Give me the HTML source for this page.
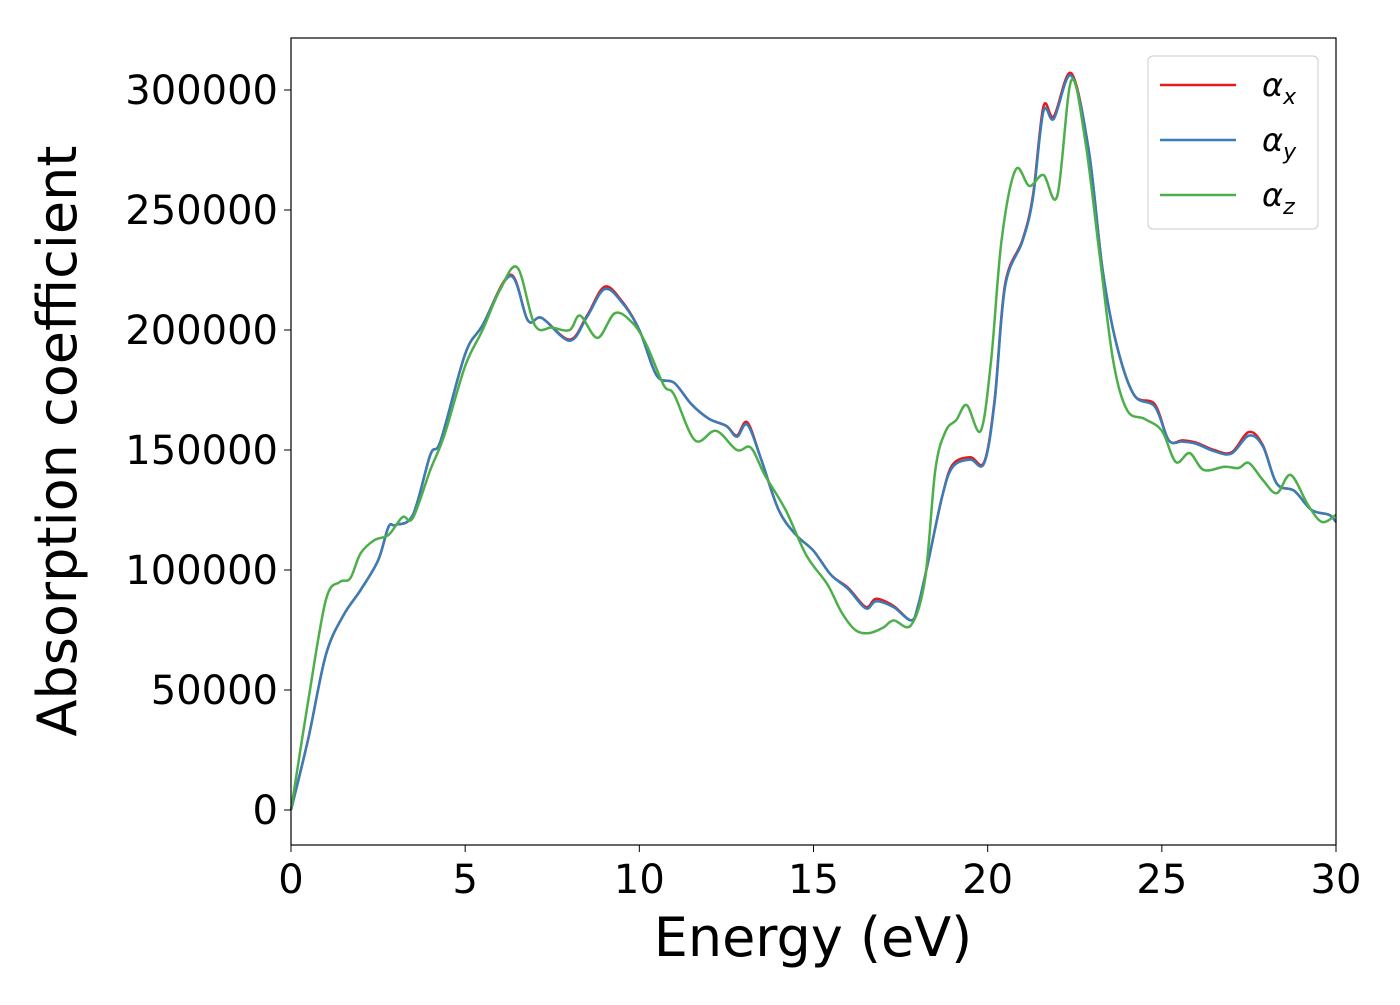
<!DOCTYPE html>
<html><head><meta charset="utf-8"><style>
body{margin:0;background:#fff;}
svg text{font-family:"DejaVu Sans","Liberation Sans",sans-serif;}
</style></head><body>
<svg id="chart" width="1400" height="1000" xmlns="http://www.w3.org/2000/svg">
<rect width="1400" height="1000" fill="#fff"/>
<g id="plot"></g>
<rect x="291" y="38" width="1045" height="807" fill="none" stroke="#000" stroke-width="1.2"/>
<g id="xticks"></g><g id="yticks"></g>
<text x="813" y="956" font-size="54" text-anchor="middle">Energy (eV)</text>
<text transform="translate(76,441) rotate(-90)" font-size="54" text-anchor="middle">Absorption coefficient</text>
<g>
<rect x="1148" y="56" width="170" height="173" rx="5" fill="#fff" stroke="#ccc"/>
<line x1="1160" y1="85" x2="1236" y2="85" stroke="#e41a1c" stroke-width="2.5"/>
<text x="1262" y="96" font-size="32" font-style="italic">α<tspan font-size="22" dy="8">x</tspan></text>
<line x1="1160" y1="140" x2="1236" y2="140" stroke="#377eb8" stroke-width="2.5"/>
<text x="1262" y="151" font-size="32" font-style="italic">α<tspan font-size="22" dy="8">y</tspan></text>
<line x1="1160" y1="195" x2="1236" y2="195" stroke="#4daf4a" stroke-width="2.5"/>
<text x="1262" y="206" font-size="32" font-style="italic">α<tspan font-size="22" dy="8">z</tspan></text>
</g>
</svg>
<script>
const xTicks=[0,5,10,15,20,25,30];
const yTicks=[0,50000,100000,150000,200000,250000,300000];
const energyX=[0,0.5,1,1.5,2,2.5,2.8,3,3.5,4,4.3,5,5.5,6.3,6.8,7.2,8,8.5,9,9.5,10,10.5,11,11.5,12,12.5,12.8,13.1,13.5,14,14.5,15,15.5,16,16.5,16.8,17.3,17.8,18,18.3,18.7,19,19.5,19.9,20.2,20.5,21,21.3,21.6,21.9,22.4,22.9,23.3,23.7,24.2,24.8,25.2,25.6,26,26.5,27,27.5,27.9,28.3,28.8,29.3,29.8,30];
const alphaX=[0,30000,64600,81000,91700,104000,118000,118750,123000,148000,154000,190000,202000,223000,204000,205000,196000,206000,218000,212000,200000,181000,178000,169000,163000,160000,156000,161500,146000,125000,114600,108000,98000,92500,84600,88000,85000,79000,85000,104000,131000,144000,147000,145000,171000,219000,237500,256000,293000,289000,307000,275000,225000,194000,173000,169000,154000,154000,153000,150000,149000,157500,152000,136000,133000,125000,123000,120000];
const alphaY=[0,30000,64600,81000,91700,104000,118000,118750,123000,148000,154000,190000,202000,222500,204000,205000,195500,205500,217000,211500,200000,181000,178000,169000,163000,160000,155500,160500,146000,125000,114600,108000,98000,92000,84000,87000,84500,79000,85000,104000,131000,143000,146000,144500,170000,218000,237000,255000,291000,288000,306000,275000,225000,194000,173000,168000,154000,153500,152500,149500,148500,156000,151500,136000,133000,125000,123000,120000];
const energyZ=[0,0.5,1,1.4,1.7,2,2.4,2.8,3.2,3.5,4,4.4,5,5.5,6,6.5,7,7.5,8,8.3,8.8,9.3,9.8,10.2,10.7,11,11.6,12.2,12.8,13.2,13.6,14.2,14.8,15.4,15.8,16.2,16.6,17,17.3,17.8,18.2,18.5,18.8,19.1,19.4,19.8,20.1,20.4,20.8,21.2,21.6,22,22.4,22.8,23.2,23.6,24,24.5,25,25.4,25.8,26.2,26.8,27.2,27.5,27.9,28.3,28.7,29.2,29.6,30];
const alphaZ=[0,46000,87500,95000,96500,107000,112500,114600,122000,121700,141700,156000,185000,200000,216700,226000,202000,201000,200000,206000,196700,207000,203000,194000,177000,173000,154000,158000,150000,151000,139600,125000,106000,94000,82500,75000,73700,76000,79000,77000,96000,142000,158000,162500,168700,158000,187500,237500,266700,260000,264600,256000,304000,279000,233000,187500,166700,163000,158000,145000,148700,141700,143000,142500,144600,137500,132000,139600,127000,120000,123000];
const X0=291,X1=1336,Y0=810,YS=720/300000;
const sx=v=>X0+(X1-X0)*v/30, sy=v=>Y0-v*YS;
const NS="http://www.w3.org/2000/svg";
function mk(t,a){const e=document.createElementNS(NS,t);for(const k in a)e.setAttribute(k,a[k]);return e;}
function path(xs,ys){const p=xs.map((x,i)=>[sx(x),sy(ys[i])]);let d=`M${p[0][0]},${p[0][1]}`;
for(let i=0;i<p.length-1;i++){const a=p[Math.max(0,i-1)],b=p[i],c=p[i+1],e=p[Math.min(p.length-1,i+2)];
d+=`C${b[0]+(c[0]-a[0])/6},${b[1]+(c[1]-a[1])/6} ${c[0]-(e[0]-b[0])/6},${c[1]-(e[1]-b[1])/6} ${c[0]},${c[1]}`;}return d;}
const plot=document.getElementById('plot');
[[energyX,alphaX,'#e41a1c','series-alpha-x'],[energyX,alphaY,'#377eb8','series-alpha-y'],[energyZ,alphaZ,'#4daf4a','series-alpha-z']].forEach(s=>{
const el=mk('path',{d:path(s[0],s[1]),fill:'none',stroke:s[2],'stroke-width':2.5});


plot.appendChild(el);});
const xt=document.getElementById('xticks');
xTicks.forEach(v=>{const g=mk('g',{});


g.appendChild(mk('line',{x1:sx(v),x2:sx(v),y1:845,y2:852,stroke:'#000'}));
const t=mk('text',{x:sx(v),y:893,'font-size':40,'text-anchor':'middle'});t.textContent=v;g.appendChild(t);xt.appendChild(g);});
const yt=document.getElementById('yticks');
yTicks.forEach(v=>{const g=mk('g',{});


g.appendChild(mk('line',{x1:284,x2:291,y1:sy(v),y2:sy(v),stroke:'#000'}));
const t=mk('text',{x:278,y:sy(v)+14,'font-size':40,'text-anchor':'end'});t.textContent=v;g.appendChild(t);yt.appendChild(g);});
</script>
</body></html>
